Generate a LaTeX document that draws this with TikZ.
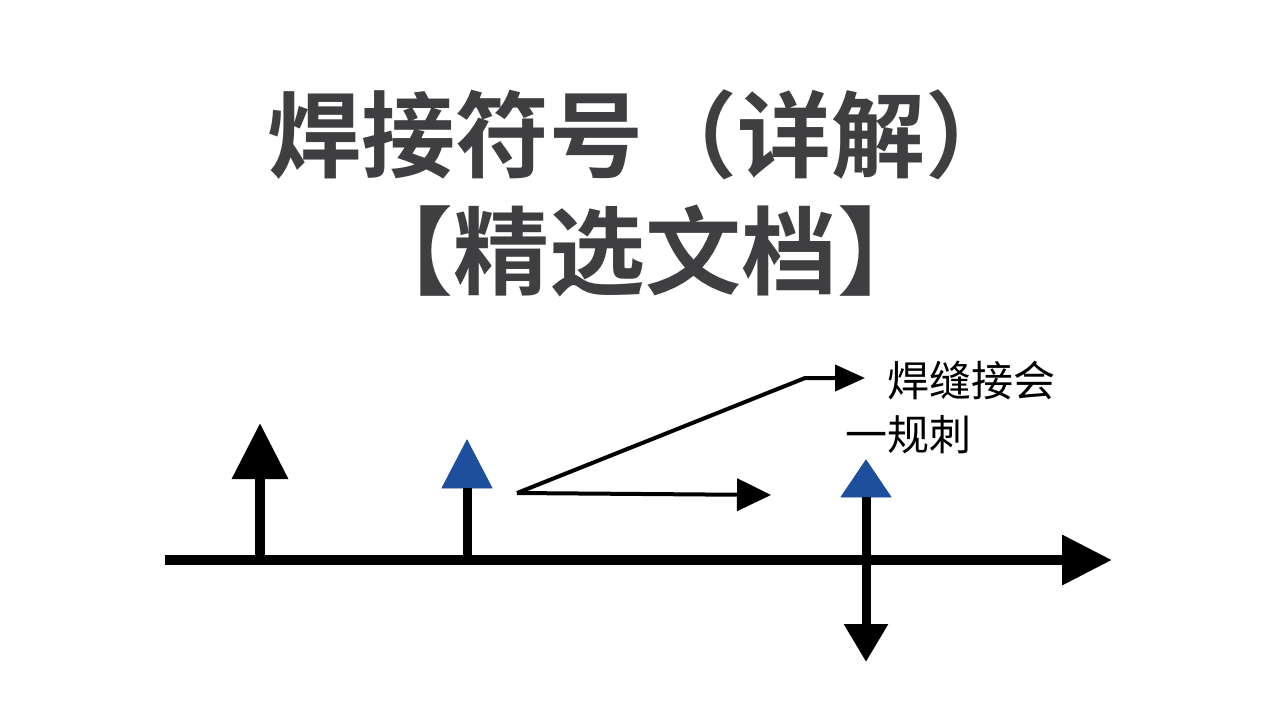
\documentclass[tikz,border=0pt]{standalone}
\usepackage{fontspec}
\newfontfamily\cjk{Noto Sans CJK SC}
\newfontfamily\cjkbold{Noto Sans CJK SC Bold}
\usetikzlibrary{arrows.meta}
\definecolor{titlegray}{HTML}{3F3F42}
\definecolor{weldblue}{HTML}{1D4F9C}

\begin{document}
\begin{tikzpicture}[x=0.5pt,y=-0.5pt,
    thick line/.style={line width=5pt,black},
    thin line/.style={line width=2pt,black},
    title/.style={text=titlegray,font=\cjkbold\fontsize{47}{54}\selectfont,inner sep=0pt}]
            \useasboundingbox[fill=white] (0,0) rectangle (1280,720);

            % title
            \node[title] (t1) at (643,135) {焊接符号（详解）};
            \node[title,font=\cjkbold\fontsize{48}{54}\selectfont] (t2) at (645,251) {【精选文档】};

            % reference line
            \coordinate (a0) at (165,560);
            \coordinate (a1) at (1112,560);
            \draw[thick line,-{Triangle[length=25pt,width=24pt]}] (a0) -- (a1);

            % arrow on the left
            \coordinate (l0) at (260,560);
            \coordinate (l1) at (260,423);
            \draw[thick line,-{Triangle[length=28pt,width=27pt]}] (l0) -- (l1);

            % blue flags
            \foreach \x/\b/\t/\n in {467/488/440/p,866/497/460/q} {
            \coordinate (\n b) at (\x,\b);
            \draw[weldblue,fill=weldblue] (\x-25,\b) -- (\x,\t) -- (\x+25,\b) -- cycle;}
            \coordinate (p0) at (467,560);
            \draw[line width=4.5pt,black] (p0) -- (pb);
            \coordinate (q1) at (866,662);
            \draw[line width=4.5pt,black,-{Triangle[length=19pt,width=21pt]}] (qb) -- (q1);

            % thin arrows
            \coordinate (s) at (517,493);
            \coordinate (s1) at (771,495);
            \coordinate (k) at (805,378);
            \coordinate (s2) at (865,378);
            \draw[thin line,-{Triangle[length=17pt,width=16pt]}] (s) -- (s1);
            \draw[thin line,-{Triangle[length=15pt,width=13pt]}] (s) -- (k) -- (s2);

            % labels
            \node[anchor=west,inner sep=0pt,font=\cjk\fontsize{21}{25}\selectfont] (n1) at (887,381) {焊缝接会};
            \node[anchor=west,inner sep=0pt,font=\cjk\fontsize{21}{25}\selectfont] (n2) at (845,435) {一规刺};
\end{tikzpicture}
\end{document}
